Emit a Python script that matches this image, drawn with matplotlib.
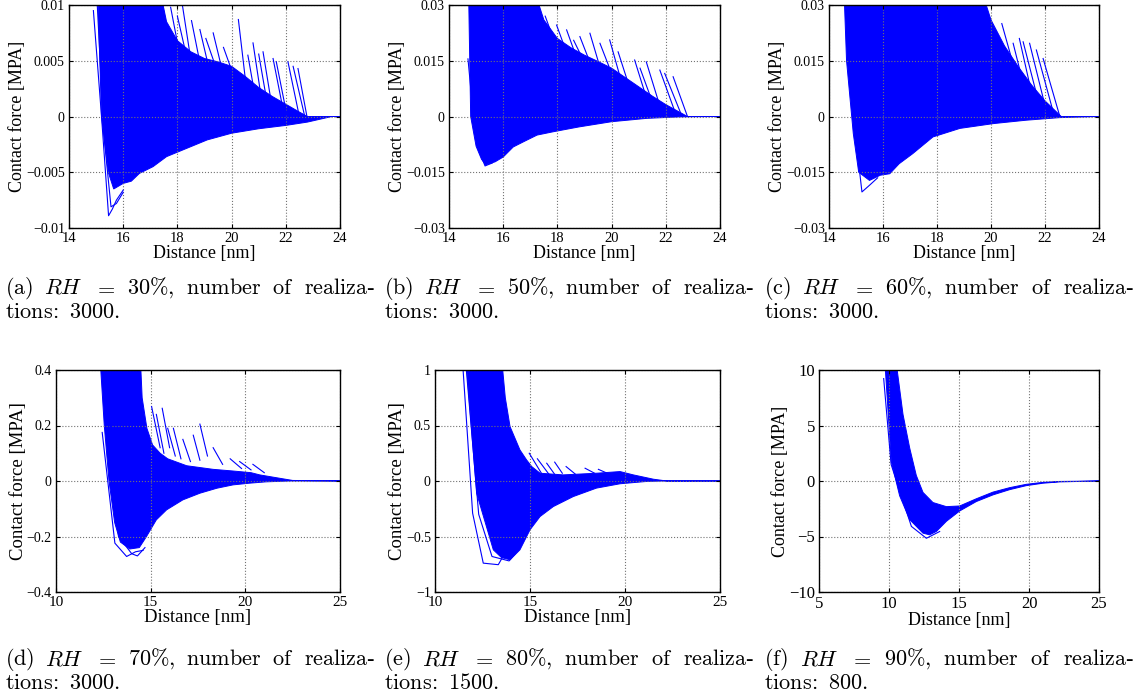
import matplotlib
matplotlib.use("Agg")
import matplotlib.pyplot as plt

# ---------------------------------------------------------------------------
# values (force curves, one panel per RH)
# each panel: dense band (upper / lower boundary), a few outlier curves,
# and single spikes that stick out above the band
# ---------------------------------------------------------------------------

# (a) RH = 30 %
a_up_x = [15.0, 17.3, 17.6, 18.0, 18.5, 19.0, 19.5, 20.0, 20.5, 21.0, 21.5, 22.0, 22.5, 22.8, 24.0]
a_up_y = [0.012, 0.012, 0.0085, 0.0068, 0.0058, 0.0052, 0.0049, 0.0045, 0.0036, 0.0026, 0.0018, 0.0011, 0.0004, 0.0, 0.0]
a_lo_x = [15.05, 15.2, 15.45, 15.65, 16.0, 16.3, 16.6, 17.1, 17.6, 18.3, 19.1, 20.0, 21.0, 22.0, 22.8, 23.7, 24.0]
a_lo_y = [0.012, 0.0, -0.005, -0.0065, -0.006, -0.0058, -0.0051, -0.0045, -0.0036, -0.0029, -0.0021,
          -0.0015, -0.0011, -0.0008, -0.0005, 0.0, 0.0]
a_out1_x = [14.9, 15.2, 15.46, 15.6, 15.75, 16.0]
a_out1_y = [0.0095, 0.0, -0.0089, -0.0083, -0.0075, -0.0066]
a_out2_x = [15.0, 15.3, 15.55, 15.75, 16.0]
a_out2_y = [0.012, -0.002, -0.0081, -0.0078, -0.0068]
a_sp_x0 = [17.45, 17.75, 18.0, 18.19, 18.52, 18.83, 19.05, 19.32, 19.7, 20.25, 20.6, 20.79, 21.0, 21.16,
           21.53, 21.65, 22.08, 22.27, 22.45]
a_sp_y0 = [0.0100, 0.0098, 0.0090, 0.0099, 0.0086, 0.0078, 0.0070, 0.0075, 0.0062, 0.0087, 0.0055, 0.0066,
           0.0056, 0.0058, 0.0052, 0.0049, 0.0049, 0.0045, 0.0043]
a_sp_x1 = [17.75, 18.05, 18.3, 18.45, 18.8, 19.1, 19.35, 19.6, 19.95, 20.5, 21.0, 21.2, 21.4, 21.55,
           21.95, 22.05, 22.5, 22.7, 22.78]
a_sp_y1 = [0.0062, 0.0060, 0.0058, 0.0058, 0.0052, 0.0050, 0.0049, 0.0047, 0.0045, 0.0035, 0.0, 0.0, 0.0,
           0.0, 0.0, 0.0, 0.0, 0.0, 0.0]

# (b) RH = 50 %
b_up_x = [14.72, 17.1, 17.5, 18.0, 18.5, 19.0, 19.5, 20.0, 20.5, 21.0, 21.5, 22.0, 22.5, 22.8, 24.0]
b_up_y = [0.035, 0.035, 0.026, 0.021, 0.0185, 0.0165, 0.0148, 0.013, 0.0105, 0.008, 0.0055, 0.0032, 0.0012, 0.0, 0.0]
b_lo_x = [14.72, 14.8, 15.0, 15.2, 15.35, 15.7, 16.0, 16.37, 16.75, 17.25, 17.85, 18.8, 20.0, 21.3, 22.5, 24.0]
b_lo_y = [0.035, 0.0, -0.008, -0.0115, -0.013, -0.0122, -0.0109, -0.0082, -0.0068, -0.005, -0.0041,
          -0.0028, -0.0014, -0.0005, -0.0001, 0.0]
b_out1_x = [14.7, 14.9, 15.1, 15.33, 15.6]
b_out1_y = [0.0155, 0.0, -0.009, -0.0133, -0.0125]
b_sp_x0 = [17.3, 17.55, 17.97, 18.34, 18.6, 18.83, 19.2, 19.57, 19.93, 20.24, 20.85, 21.05, 21.28, 21.78,
           21.96, 22.27]
b_sp_y0 = [0.030, 0.027, 0.0246, 0.0233, 0.0205, 0.0215, 0.0224, 0.0197, 0.0206, 0.0174, 0.0152, 0.013,
           0.0147, 0.0125, 0.0116, 0.0107]
b_sp_x1 = [17.6, 17.85, 18.3, 18.65, 18.9, 19.15, 19.5, 19.9, 20.3, 20.7, 21.5, 21.7, 21.9, 22.4, 22.6, 22.8]
b_sp_y1 = [0.022, 0.021, 0.018, 0.017, 0.016, 0.0155, 0.015, 0.0135, 0.011, 0.007, 0.0, 0.0, 0.0, 0.0, 0.0, 0.0]

# (c) RH = 60 %
c_up_x = [14.55, 19.6, 20.0, 20.5, 21.0, 21.5, 22.0, 22.6, 24.0]
c_up_y = [0.035, 0.035, 0.026, 0.019, 0.0135, 0.0085, 0.0042, 0.0, 0.0]
c_lo_x = [14.55, 14.65, 14.9, 15.1, 15.5, 15.9, 16.25, 16.6, 17.1, 17.85, 18.85, 20.1, 21.3, 22.55, 24.0]
c_lo_y = [0.035, 0.015, -0.0046, -0.015, -0.0172, -0.0158, -0.0154, -0.0127, -0.010, -0.0055, -0.0032,
          -0.0019, -0.001, -0.0003, 0.0]
c_out1_x = [14.6, 14.9, 15.22, 15.5, 15.8]
c_out1_y = [0.032, 0.0, -0.0203, -0.0185, -0.0165]
c_sp_x0 = [20.08, 20.4, 20.82, 21.05, 21.19, 21.43, 21.68, 21.93]
c_sp_y0 = [0.0228, 0.025, 0.0197, 0.021, 0.0201, 0.0197, 0.0179, 0.0156]
c_sp_x1 = [20.6, 20.9, 21.5, 21.7, 21.9, 22.1, 22.35, 22.55]
c_sp_y1 = [0.012, 0.012, 0.0, 0.0, 0.0, 0.0, 0.0, 0.0]

# (d) RH = 70 %
d_up_x = [12.32, 14.45, 14.55, 14.8, 15.1, 15.5, 15.9, 16.9, 18.3, 19.35, 20.3, 20.76, 21.8, 22.5, 25.0]
d_up_y = [0.45, 0.45, 0.3, 0.19, 0.13, 0.1, 0.08, 0.055, 0.042, 0.036, 0.03, 0.022, 0.01, 0.002, 0.0]
d_lo_x = [12.32, 12.55, 12.8, 13.1, 13.4, 13.9, 14.4, 14.78, 15.3, 15.84, 16.7, 17.6, 18.5, 19.35, 20.2,
          21.1, 22.3, 25.0]
d_lo_y = [0.45, 0.2, 0.0, -0.15, -0.22, -0.245, -0.24, -0.2, -0.14, -0.104, -0.068, -0.044, -0.026,
          -0.014, -0.008, -0.003, 0.0, 0.0]
d_out1_x = [12.44, 13.11, 13.73, 14.2, 14.6]
d_out1_y = [0.175, -0.224, -0.272, -0.255, -0.25]
d_out2_x = [12.6, 13.3, 14.0, 14.3, 14.7]
d_out2_y = [0.45, -0.2, -0.262, -0.27, -0.24]
d_sp_x0 = [15.05, 15.3, 15.61, 15.9, 16.2, 16.7, 17.25, 17.6, 18.3, 19.2, 19.7, 20.4]
d_sp_y0 = [0.268, 0.24, 0.262, 0.19, 0.19, 0.15, 0.165, 0.205, 0.12, 0.08, 0.07, 0.06]
d_sp_x1 = [15.5, 15.7, 16.0, 16.3, 16.6, 17.1, 17.6, 18.0, 18.8, 19.8, 20.3, 21.0]
d_sp_y1 = [0.12, 0.1, 0.12, 0.09, 0.08, 0.07, 0.075, 0.09, 0.06, 0.045, 0.04, 0.03]

# (e) RH = 80 %
e_up_x = [11.63, 13.51, 13.7, 13.95, 14.47, 14.82, 15.09, 15.53, 16.75, 18.5, 19.74, 20.44, 21.5, 22.2, 25.0]
e_up_y = [1.1, 1.1, 0.75, 0.49, 0.28, 0.19, 0.13, 0.07, 0.055, 0.07, 0.085, 0.055, 0.016, 0.0, 0.0]
e_lo_x = [11.63, 12.19, 13.07, 13.5, 13.95, 14.47, 15.0, 15.53, 16.23, 17.28, 18.5, 19.74, 21.14, 22.0, 25.0]
e_lo_y = [1.1, -0.11, -0.62, -0.69, -0.71, -0.62, -0.44, -0.32, -0.23, -0.14, -0.064, -0.025, -0.004, 0.0, 0.0]
e_out1_x = [11.44, 11.98, 12.54, 13.33, 13.68]
e_out1_y = [1.1, -0.29, -0.74, -0.754, -0.65]
e_out2_x = [11.6, 12.3, 13.0, 13.9, 14.2]
e_out2_y = [1.1, -0.3, -0.68, -0.72, -0.66]
e_sp_x0 = [14.96, 15.39, 15.88, 16.3, 16.9, 17.9, 18.6]
e_sp_y0 = [0.25, 0.2, 0.16, 0.17, 0.13, 0.115, 0.105]
e_sp_x1 = [15.6, 16.0, 16.3, 16.7, 17.4, 18.4, 19.0]
e_sp_y1 = [0.07, 0.06, 0.06, 0.07, 0.06, 0.07, 0.075]

# (f) RH = 90 %
f_up_x = [9.69, 10.48, 11.0, 11.48, 11.95, 12.43, 13.14, 14.1, 15.05, 16.24, 17.43, 18.62, 19.8, 21.0, 22.2, 25.0]
f_up_y = [11.0, 11.0, 6.0, 2.96, 0.5, -1.03, -1.94, -2.31, -2.25, -1.6, -1.0, -0.6, -0.3, -0.12, -0.04, 0.0]
f_lo_x = [9.69, 10.17, 10.76, 11.48, 12.43, 12.9, 13.38, 14.1, 15.05, 16.24, 17.43, 18.62, 19.8, 21.0, 22.2, 25.0]
f_lo_y = [11.0, 1.73, -1.33, -3.48, -4.7, -4.85, -4.55, -3.63, -2.7, -1.85, -1.25, -0.78, -0.42, -0.2, -0.08, 0.0]
f_out1_x = [9.62, 10.15, 10.64, 11.6, 12.67, 13.62]
f_out1_y = [9.23, 1.5, -0.41, -4.09, -5.16, -4.55]

# axes ranges and ticks
xlims = [(14, 24), (14, 24), (14, 24), (10, 25), (10, 25), (5, 25)]
ylims = [(-0.01, 0.01), (-0.03, 0.03), (-0.03, 0.03), (-0.4, 0.4), (-1, 1), (-10, 10)]
xticks = [[14, 16, 18, 20, 22, 24]] * 3 + [[10, 15, 20, 25]] * 2 + [[5, 10, 15, 20, 25]]
yticks = [
    [-0.01, -0.005, 0, 0.005, 0.01],
    [-0.03, -0.015, 0, 0.015, 0.03],
    [-0.03, -0.015, 0, 0.015, 0.03],
    [-0.4, -0.2, 0, 0.2, 0.4],
    [-1, -0.5, 0, 0.5, 1],
    [-10, -5, 0, 5, 10],
]
yticklabels = [
    ["\u22120.01", "\u22120.005", "0", "0.005", "0.01"],
    ["\u22120.03", "\u22120.015", "0", "0.015", "0.03"],
    ["\u22120.03", "\u22120.015", "0", "0.015", "0.03"],
    ["\u22120.4", "\u22120.2", "0", "0.2", "0.4"],
    ["\u22121", "\u22120.5", "0", "0.5", "1"],
    ["\u221210", "\u22125", "0", "5", "10"],
]

panel_letters = ["a", "b", "c", "d", "e", "f"]
rh_values = [30, 50, 60, 70, 80, 90]
realizations = [3000, 3000, 3000, 3000, 1500, 800]

# ---------------------------------------------------------------------------

BLUE = (0.0, 0.0, 1.0)
W_PX, H_PX = 1145, 694

plt.rcParams["font.family"] = "serif"
plt.rcParams["font.serif"] = ["Liberation Serif", "DejaVu Serif"]
plt.rcParams["mathtext.fontset"] = "cm"

fig = plt.figure(figsize=(W_PX / 100, H_PX / 100), dpi=100)

# axes boxes in pixels: left, top, right, bottom
boxes = [
    (69, 5, 340, 228),
    (449, 5, 720, 228),
    (829, 5, 1099, 228),
    (56, 370, 340, 592),
    (435, 370, 720, 592),
    (819, 370, 1099, 592),
]

panels = [
    (a_up_x, a_up_y, a_lo_x, a_lo_y, [(a_out1_x, a_out1_y), (a_out2_x, a_out2_y)], (a_sp_x0, a_sp_y0, a_sp_x1, a_sp_y1)),
    (b_up_x, b_up_y, b_lo_x, b_lo_y, [(b_out1_x, b_out1_y)], (b_sp_x0, b_sp_y0, b_sp_x1, b_sp_y1)),
    (c_up_x, c_up_y, c_lo_x, c_lo_y, [(c_out1_x, c_out1_y)], (c_sp_x0, c_sp_y0, c_sp_x1, c_sp_y1)),
    (d_up_x, d_up_y, d_lo_x, d_lo_y, [(d_out1_x, d_out1_y), (d_out2_x, d_out2_y)], (d_sp_x0, d_sp_y0, d_sp_x1, d_sp_y1)),
    (e_up_x, e_up_y, e_lo_x, e_lo_y, [(e_out1_x, e_out1_y), (e_out2_x, e_out2_y)], (e_sp_x0, e_sp_y0, e_sp_x1, e_sp_y1)),
    (f_up_x, f_up_y, f_lo_x, f_lo_y, [(f_out1_x, f_out1_y)], None),
]

label_size = [13, 13, 13, 13.5, 13.5, 13]
xtick_size = [10.5, 10.5, 10.5, 11, 11, 12]
ytick_size = [10, 10, 10, 10, 10, 12]

for i, (box, panel) in enumerate(zip(boxes, panels)):
    left, top, right, bottom = box
    ax = fig.add_axes([left / W_PX, 1 - bottom / H_PX, (right - left) / W_PX, (bottom - top) / H_PX])
    up_x, up_y, lo_x, lo_y, outliers, spikes = panel

    poly_x = list(up_x) + list(lo_x[::-1])
    poly_y = list(up_y) + list(lo_y[::-1])
    ax.fill(poly_x, poly_y, color=BLUE, lw=0.7)

    for ox, oy in outliers:
        ax.plot(ox, oy, color=BLUE, lw=0.8)

    if spikes is not None:
        for x0, y0, x1, y1 in zip(*spikes):
            ax.plot([x0, x1], [y0, y1], color=BLUE, lw=0.8)

    ax.set_xlim(*xlims[i])
    ax.set_ylim(*ylims[i])
    ax.set_xticks(xticks[i])
    ax.set_yticks(yticks[i])
    ax.set_yticklabels(yticklabels[i])
    ax.grid(True, linestyle=":", color="0.45", lw=0.8)
    ax.tick_params(direction="in", top=True, right=True, length=3, pad=3)
    ax.tick_params(axis="x", labelsize=xtick_size[i])
    ax.tick_params(axis="y", labelsize=ytick_size[i])
    for sp in ax.spines.values():
        sp.set_linewidth(1.0)
    ax.set_xlabel("Distance [nm]", fontsize=label_size[i], labelpad=0)
    ax.set_ylabel("Contact force [MPA]", fontsize=label_size[i], labelpad=0)

# ---------------------------------------------------------------------------
# captions, justified like the LaTeX subfigure captions (Computer Modern)
# ---------------------------------------------------------------------------
CAP_SIZE = 16
renderer = fig.canvas.get_renderer()


def justified_line(words, x_left, x_right, y_base):
    texts = [
        fig.text(0, 1 - y_base / H_PX, w, fontsize=CAP_SIZE, va="baseline")
        for w in words
    ]
    widths = [t.get_window_extent(renderer).width for t in texts]
    gap = (x_right - x_left - sum(widths)) / (len(words) - 1)
    x = x_left
    for t, w in zip(texts, widths):
        t.set_x(x / W_PX)
        x += w + gap


col_left = [5, 384, 764]
col_width = 371
row_base = [(294, 318), (665, 689)]

for i, letter in enumerate(panel_letters):
    row, col = divmod(i, 3)
    x0 = col_left[col]
    words = [
        rf"$\mathrm{{({letter})}}$",
        r"$RH$",
        r"$=$",
        rf"$\mathrm{{{rh_values[i]}\%,}}$",
        r"$\mathrm{number}$",
        r"$\mathrm{of}$",
        r"$\mathrm{realiza}$-",
    ]
    justified_line(words, x0, x0 + col_width, row_base[row][0])
    fig.text(x0 / W_PX, 1 - row_base[row][1] / H_PX,
             rf"$\mathrm{{tions}}\!:\ \mathrm{{{realizations[i]}.}}$",
             fontsize=CAP_SIZE, va="baseline")

fig.savefig("out.png", dpi=100)
plt.close(fig)
